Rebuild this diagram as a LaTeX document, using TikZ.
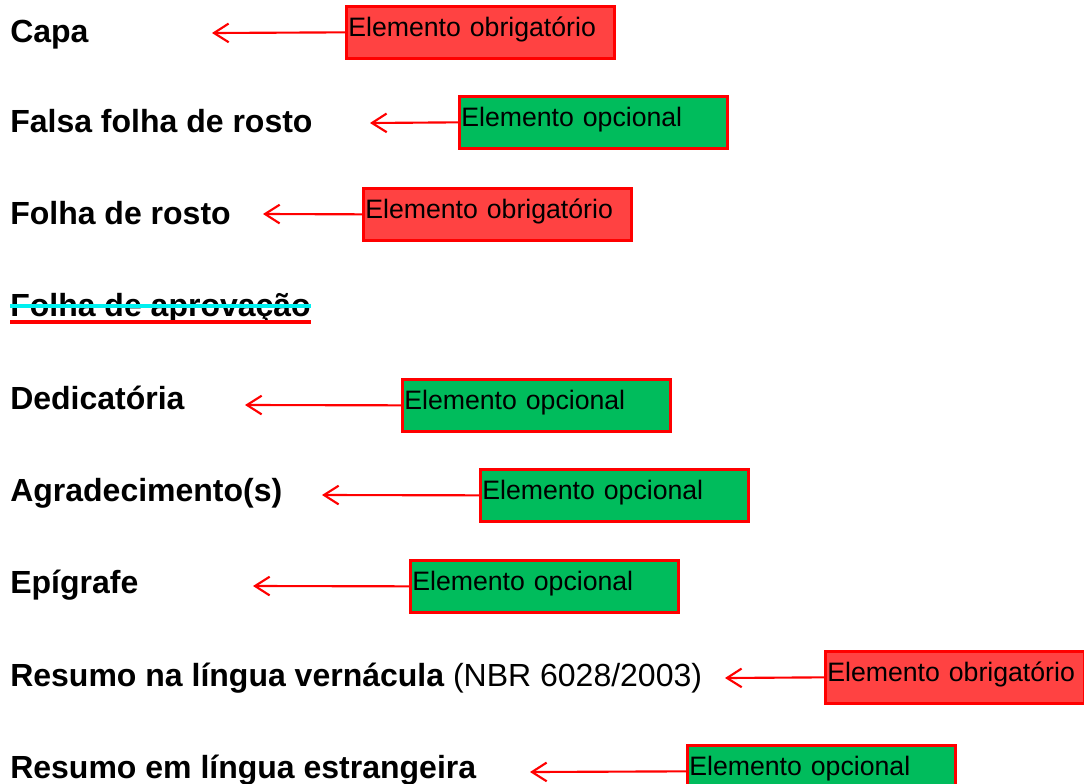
\documentclass[tikz,border=0pt]{standalone}
\usepackage{fontspec}
\setmainfont{Liberation Sans}
\usetikzlibrary{arrows.meta}
\definecolor{obrred}{RGB}{255,66,66}
\definecolor{opcgreen}{RGB}{0,188,92}
\definecolor{strikecyan}{RGB}{0,240,240}

\begin{document}
\begin{tikzpicture}[x=0.75pt,y=-0.75pt,
    item/.style={anchor=base west,inner sep=0pt,font=\fontsize{24}{28}\selectfont\bfseries},
    tag/.style={draw=red,line width=2pt,anchor=north west,inner xsep=1.5pt,inner ysep=0pt,
      text width=198pt,align=left,text height=22.5pt,text depth=16.5pt,
      font=\fontsize{20}{24}\selectfont},
    obr/.style={tag,fill=obrred},
    opc/.style={tag,fill=opcgreen},
    ptr/.style={draw=red,line width=1.6pt,-{Straight Barb[length=11pt,width=14pt]}}]
    \useasboundingbox (0,0) rectangle (1084,783);
    \node[item] (T1) at (10, 42) {Capa};
    \node[item] (T2) at (10,132) {Falsa folha de rosto};
    \node[item] (T3) at (10,224) {Folha de rosto};
    \node[item] (T4) at (10,316) {Folha de aprovação};
    \node[item] (T5) at (10,409) {Dedicatória};
    \node[item] (T6) at (10,501) {Agradecimento(s)};
    \node[item] (T7) at (10,593) {Epígrafe};
    \node[item] (T8) at (10,686) {Resumo na língua vernácula {\mdseries (NBR 6028/2003)}};
    \node[item] (T9) at (10,778) {Resumo em língua estrangeira};
    \draw[red,line width=3.5pt] ([yshift=-4.5pt]T4.base west) -- ([yshift=-4.5pt]T4.base east);
    \draw[strikecyan,line width=3pt] ([yshift=7.5pt]T4.base west) -- ([yshift=7.5pt]T4.base east);
    \node[obr] (E1) at (345,  5) {Elemento obrigatório};
    \node[opc] (E2) at (458, 95) {Elemento opcional};
    \node[obr] (E3) at (362,187) {Elemento obrigatório};
    \node[opc] (E4) at (401,378) {Elemento opcional};
    \node[opc] (E5) at (479,468) {Elemento opcional};
    \node[opc] (E6) at (409,559) {Elemento opcional};
    \node[obr,text width=191pt] (E7) at (824,650) {Elemento obrigatório};
    \node[opc] (E8) at (686,744) {Elemento opcional};
    \coordinate (P1) at (212, 33);
    \coordinate (P2) at (370,123);
    \coordinate (P3) at (263,214);
    \coordinate (P4) at (245,405);
    \coordinate (P5) at (322,495);
    \coordinate (P6) at (253,586);
    \coordinate (P7) at (725,678);
    \coordinate (P8) at (530,772);
    \draw (E1.west) edge[ptr] (P1);
    \draw (E2.west) edge[ptr] (P2);
    \draw (E3.west) edge[ptr] (P3);
    \draw (E4.west) edge[ptr] (P4);
    \draw (E5.west) edge[ptr] (P5);
    \draw (E6.west) edge[ptr] (P6);
    \draw (E7.west) edge[ptr] (P7);
    \draw (E8.west) edge[ptr] (P8);
  \end{tikzpicture}
\end{document}
